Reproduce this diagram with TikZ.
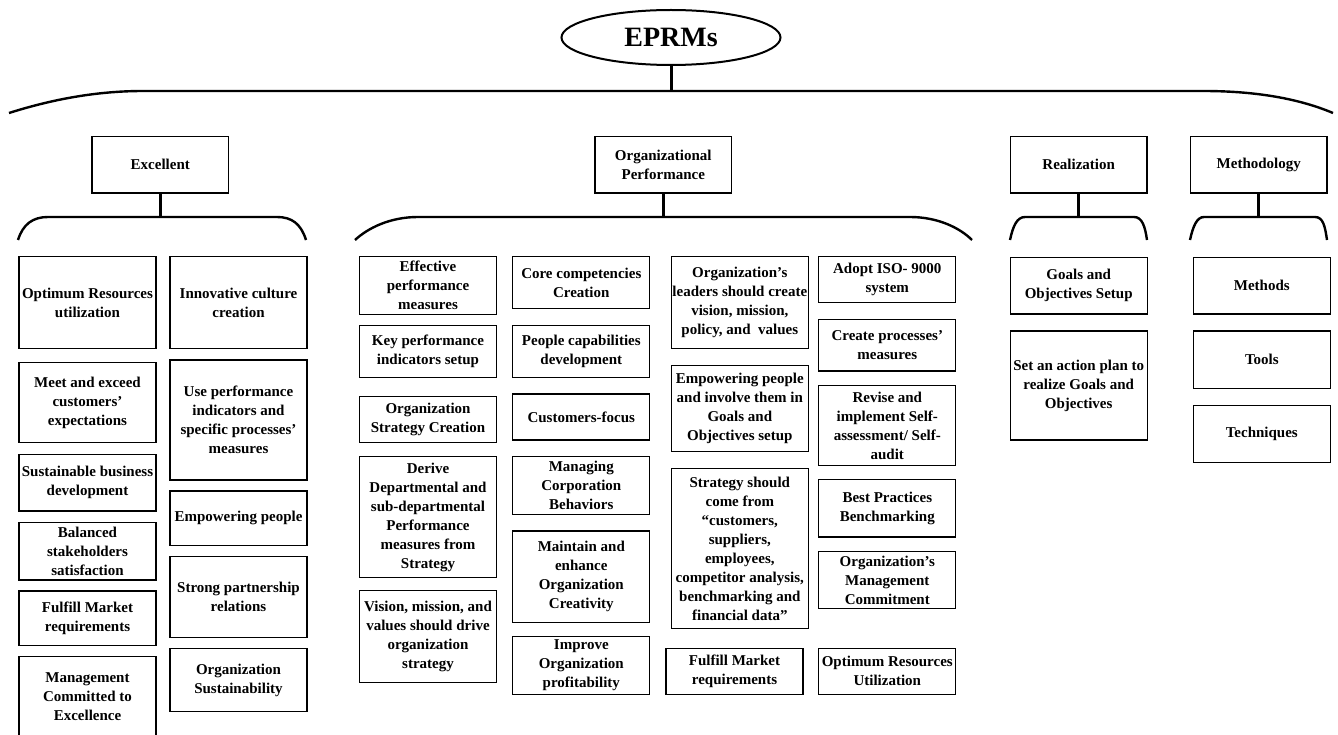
\documentclass[tikz,border=0pt]{standalone}
\usepackage{fontspec}
\setmainfont{Liberation Serif}
\usetikzlibrary{shapes.geometric}
\begin{document}
\begin{tikzpicture}[x=1pt,y=-1pt,
  box/.style={draw, line width=1.2pt, align=center, inner sep=0pt, minimum width=137pt, font=\fontsize{15}{19}\selectfont\bfseries},
  head/.style={box, minimum width=136.5pt, minimum height=56.5pt},
  brace/.style={line width=2.4pt},
  conn/.style={line width=3pt}]
\useasboundingbox (0,0) rectangle (1338,735);

% root
\node[draw, ellipse, line width=2pt, minimum width=219pt, minimum height=55pt, inner sep=0pt,
      font=\fontsize{28}{32}\selectfont\bfseries] (root) at (671,37.5) {EPRMs};
\coordinate (bigtop) at (671,91);
\draw[brace] (9,113) .. controls (50,100) and (95,91) .. (143,91) -- (1203,91)
  .. controls (1250,91) and (1295,97) .. (1333,113);
\draw[conn] (root) -- (bigtop);

% headers
\node[head] (exc) at (160.3,164.8) {Excellent};
\node[head] (org) at (663.3,164.8) {Organizational\\Performance};
\node[head] (rea) at (1078.7,164.8) {Realization};
\node[head] (met) at (1258.8,164.8) {Methodology};

% small braces
\coordinate (excb) at (160.3,217);
\coordinate (orgb) at (663.3,217);
\coordinate (reab) at (1078.7,217);
\coordinate (metb) at (1258.8,217);
\draw[brace] (18,240) .. controls (23,224) and (33,217) .. (48,217) -- (277,217)
  .. controls (292,217) and (301,224) .. (306,240);
\draw[brace] (355,240) .. controls (368,228) and (390,217) .. (418,217) -- (910,217)
  .. controls (938,217) and (960,228) .. (972,240);
\draw[brace] (1010,240) .. controls (1013,226) and (1017,217) .. (1025,217) -- (1134,217)
  .. controls (1142,217) and (1145,226) .. (1147,240);
\draw[brace] (1190,240) .. controls (1193,226) and (1197,217) .. (1204,217) -- (1315,217)
  .. controls (1323,217) and (1325,226) .. (1327,240);
\draw[conn] (exc) -- (excb);
\draw[conn] (org) -- (orgb);
\draw[conn] (rea) -- (reab);
\draw[conn] (met) -- (metb);

% Excellent column 1
\node[box, minimum height=92pt] (e1) at (87.5,302.7) {Optimum Resources\\utilization};
\node[box, minimum height=80pt] (e2) at (87.5,402.7) {Meet and exceed\\customers’\\expectations};
\node[box, minimum height=56.7pt] (e3) at (87.5,482.7) {Sustainable business\\development};
\node[box, minimum height=57.3pt] (e4) at (87.5,551.3) {Balanced\\stakeholders\\satisfaction};
\node[box, minimum height=54.7pt] (e5) at (87.5,618.3) {Fulfill Market\\requirements};
\node[box, minimum height=80.3pt] (e6) at (87.5,696.8) {Management\\Committed to\\Excellence};
% Excellent column 2
\node[box, minimum height=92pt] (f1) at (238.5,302.7) {Innovative culture\\creation};
\node[box, minimum height=120pt] (f2) at (238.5,420) {Use performance\\indicators and\\specific processes’\\measures};
\node[box, minimum height=54.7pt] (f3) at (238.5,518.3) {Empowering people};
\node[box, minimum height=80.6pt] (f4) at (238.5,597) {Strong partnership\\relations};
\node[box, minimum height=63.4pt] (f5) at (238.5,680) {Organization\\Sustainability};

% Organizational Performance column 1
\node[box, minimum height=57.6pt] (o1) at (428,285.5) {Effective\\performance\\measures};
\node[box, minimum height=51.6pt] (o2) at (428,351.5) {Key performance\\indicators setup};
\node[box, minimum height=46pt] (o3) at (428,419.7) {Organization\\Strategy Creation};
\node[box, minimum height=120.6pt] (o4) at (428,517) {Derive\\Departmental and\\sub-departmental\\Performance\\measures from\\Strategy};
\node[box, minimum height=92pt] (o5) at (428,636.7) {Vision, mission, and\\values should drive\\organization\\strategy};
% column 2
\node[box, minimum height=52pt] (p1) at (581.3,282.7) {Core competencies\\Creation};
\node[box, minimum height=51.6pt] (p2) at (581.3,351.5) {People capabilities\\development};
\node[box, minimum height=46pt] (p3) at (581.3,417) {Customers-focus};
\node[box, minimum height=57.6pt] (p4) at (581.3,485.5) {Managing\\Corporation\\Behaviors};
\node[box, minimum height=91.7pt] (p5) at (581.3,576.8) {Maintain and\\enhance\\Organization\\Creativity};
\node[box, minimum height=57.6pt] (p6) at (581.3,665.5) {Improve\\Organization\\profitability};
% column 3
\node[box, minimum height=92pt] (q1) at (739.8,302.7) {Organization’s\\leaders should create\\vision, mission,\\policy, and\ \ values};
\node[box, minimum height=85.6pt] (q2) at (739.8,408.5) {Empowering people\\and involve them in\\Goals and\\Objectives setup};
\node[box, minimum height=159.6pt] (q3) at (739.8,548.5) {Strategy should\\come from\\“customers,\\suppliers,\\employees,\\competitor analysis,\\benchmarking and\\financial data”};
\node[box, minimum height=46pt] (q4) at (734.5,671.3) {Fulfill Market\\requirements};
% column 4
\node[box, minimum height=46pt] (r1) at (887.3,279.7) {Adopt ISO- 9000\\system};
\node[box, minimum height=51.3pt] (r2) at (887.3,345.3) {Create processes’\\measures};
\node[box, minimum height=80.4pt] (r3) at (887.3,425.5) {Revise and\\implement Self-\\assessment/ Self-\\audit};
\node[box, minimum height=57.3pt] (r4) at (887.3,508.3) {Best Practices\\Benchmarking};
\node[box, minimum height=57.4pt] (r5) at (887.3,580) {Organization’s\\Management\\Commitment};
\node[box, minimum height=46pt] (r6) at (887.3,671.3) {Optimum Resources\\Utilization};

% Realization
\node[box, minimum height=56.7pt] (s1) at (1078.7,285.7) {Goals and\\Objectives Setup};
\node[box, minimum height=109pt] (s2) at (1078.7,385.5) {Set an action plan to\\realize Goals and\\Objectives};
% Methodology
\node[box, minimum height=56.7pt] (t1) at (1261.8,285.7) {Methods};
\node[box, minimum height=57.3pt] (t2) at (1261.8,359.7) {Tools};
\node[box, minimum height=56.6pt] (t3) at (1261.8,434) {Techniques};
\end{tikzpicture}
\end{document}
